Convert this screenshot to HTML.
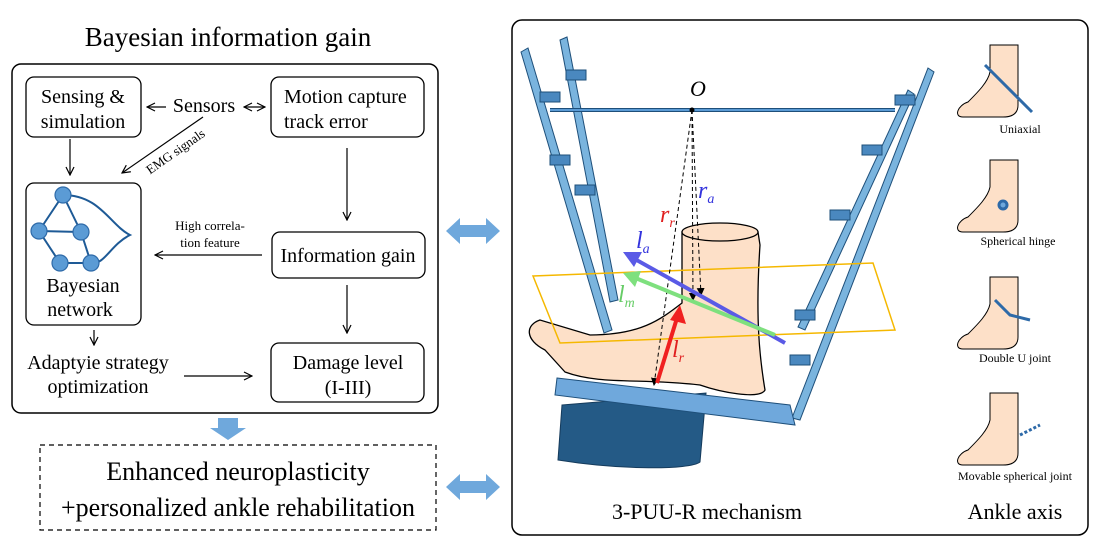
<!DOCTYPE html>
<html><head><meta charset="utf-8"><style>
body{margin:0;background:#fff;}
svg{display:block;font-family:"Liberation Serif",serif;}
</style></head><body>
<svg width="1100" height="560" viewBox="0 0 1100 560" xmlns="http://www.w3.org/2000/svg">
<defs>
<marker id="a" markerWidth="10" markerHeight="10" refX="9" refY="5" orient="auto" markerUnits="userSpaceOnUse"><path d="M1,1 L9,5 L1,9" fill="none" stroke="#000" stroke-width="1.2"/></marker>
<marker id="as" markerWidth="10" markerHeight="10" refX="9" refY="5" orient="auto-start-reverse" markerUnits="userSpaceOnUse"><path d="M1,1 L9,5 L1,9" fill="none" stroke="#000" stroke-width="1.2"/></marker>
<marker id="d" markerWidth="8" markerHeight="8" refX="7" refY="4" orient="auto" markerUnits="userSpaceOnUse"><path d="M0,0 L8,4 L0,8z" fill="#000"/></marker>
</defs>
<rect width="1100" height="560" fill="#fff"/>
<text x="228" y="46" font-size="27" text-anchor="middle">Bayesian information gain</text>
<rect x="12" y="64" width="426" height="349" rx="9" fill="none" stroke="#000" stroke-width="1.5"/>
<g fill="none" stroke="#000" stroke-width="1.3">
<rect x="26" y="77" width="115" height="60" rx="8"/>
<rect x="271" y="77" width="153" height="60" rx="8"/>
<rect x="26" y="183" width="115" height="142" rx="8"/>
<rect x="272" y="232" width="153" height="46" rx="8"/>
<rect x="271" y="343" width="153" height="59" rx="8"/>
</g>
<g font-size="20">
<text x="83" y="103" text-anchor="middle">Sensing &amp;</text>
<text x="83" y="128" text-anchor="middle">simulation</text>
<text x="284" y="103">Motion capture</text>
<text x="284" y="128">track error</text>
<text x="204" y="112" text-anchor="middle">Sensors</text>
<text x="348" y="262" text-anchor="middle">Information gain</text>
<text x="348" y="369" text-anchor="middle">Damage level</text>
<text x="348" y="394" text-anchor="middle">(I-III)</text>
<text x="83" y="292" text-anchor="middle">Bayesian</text>
<text x="80" y="316" text-anchor="middle">network</text>
<text x="98" y="369" text-anchor="middle">Adaptyie strategy</text>
<text x="98" y="393" text-anchor="middle">optimization</text>
</g>
<text x="210" y="230" font-size="13" text-anchor="middle">High correla-</text>
<text x="210" y="247" font-size="13" text-anchor="middle">tion feature</text>
<text x="178" y="155" font-size="13" transform="rotate(-35 178 155)" text-anchor="middle">EMG signals</text>
<g stroke="#000" stroke-width="1.2" fill="none">
<line x1="166" y1="107" x2="147" y2="107" marker-end="url(#a)"/>
<line x1="244" y1="107" x2="265" y2="107" marker-end="url(#a)" marker-start="url(#as)"/>
<line x1="203" y1="117" x2="122" y2="173" marker-end="url(#a)"/>
<line x1="70" y1="139" x2="70" y2="175" marker-end="url(#a)"/>
<line x1="347" y1="148" x2="347" y2="220" marker-end="url(#a)"/>
<line x1="347" y1="285" x2="347" y2="333" marker-end="url(#a)"/>
<line x1="262" y1="255" x2="155" y2="255" marker-end="url(#a)"/>
<line x1="94" y1="330" x2="94" y2="345" marker-end="url(#a)"/>
<line x1="184" y1="376" x2="252" y2="376" marker-end="url(#a)"/>
</g>
<g stroke="#1e5a96" stroke-width="2" fill="none">
<line x1="63" y1="195" x2="39" y2="231"/><line x1="63" y1="195" x2="81" y2="232"/>
<line x1="39" y1="231" x2="81" y2="232"/><line x1="39" y1="231" x2="60" y2="263"/>
<line x1="81" y1="232" x2="91" y2="263"/><line x1="60" y1="263" x2="91" y2="263"/>
<path d="M63,195 C100,195 110,225 130,235 C110,245 105,265 91,263"/>
</g>
<g fill="#5b9bd5" stroke="#2e6aa8" stroke-width="1.2">
<circle cx="63" cy="195" r="8"/><circle cx="39" cy="231" r="8"/><circle cx="81" cy="232" r="8"/><circle cx="60" cy="263" r="8"/><circle cx="91" cy="263" r="8"/>
</g>
<path d="M218,418 h20 v10 h8 l-18,12 l-18,-12 h8z" fill="#6fa8dc"/>
<rect x="40" y="445" width="396" height="85" fill="none" stroke="#000" stroke-width="1.2" stroke-dasharray="5,4"/>
<text x="238" y="480" font-size="26" text-anchor="middle">Enhanced neuroplasticity</text>
<text x="238" y="516" font-size="26" text-anchor="middle">+personalized ankle rehabilitation</text>
<g fill="#6fa8dc">
<path d="M446,231 l14,-13 v7 h26 v-7 l14,13 l-14,13 v-7 h-26 v7z"/>
<path d="M446,487 l14,-13 v7 h26 v-7 l14,13 l-14,13 v-7 h-26 v7z"/>
</g>
<rect x="512" y="20" width="576" height="515" rx="10" fill="none" stroke="#000" stroke-width="1.5"/>
<!-- legs -->
<g stroke="#1e4f7a" stroke-width="1" fill="#7ab4de">
<path d="M521,52 L528,48 L612,330 L604,333z"/>
<path d="M560,40 L567,37 L618,300 L610,302z"/>
<path d="M928,68 L934,72 L800,420 L792,418z"/>
<path d="M908,90 L914,94 L805,330 L798,327z"/>
</g>
<g stroke="#1e4f7a" stroke-width="1" fill="#4a88bf">
<rect x="540" y="92" width="20" height="10"/><rect x="566" y="70" width="20" height="10"/>
<rect x="550" y="155" width="20" height="10"/><rect x="575" y="185" width="20" height="10"/>
<rect x="895" y="95" width="20" height="10"/><rect x="862" y="145" width="20" height="10"/>
<rect x="830" y="210" width="20" height="10"/><rect x="795" y="310" width="20" height="10"/>
<rect x="790" y="355" width="20" height="10"/>
</g>
<line x1="550" y1="110" x2="895" y2="110" stroke="#1e4f7a" stroke-width="4"/>
<line x1="550" y1="110" x2="895" y2="110" stroke="#5b9bd5" stroke-width="2"/>
<text x="698" y="96" font-size="22" font-style="italic" text-anchor="middle">O</text>
<!-- base -->
<path d="M562,405 L706,393 L700,462 C690,470 620,470 558,460z" fill="#245a86" stroke="#153b5c"/>
<path d="M557,378 L790,405 L795,425 L555,395z" fill="#6fa8dc" stroke="#1e4f7a"/>
<!-- foot -->
<path d="M682,232 L682,303 C660,320 640,335 590,335 L540,320 C525,325 525,340 545,350 L565,372 C600,385 640,378 700,385 C720,392 760,400 765,390 C760,360 755,320 760,245 L758,232z" fill="#fde0c8" stroke="#000" stroke-width="1.3"/>
<ellipse cx="720" cy="232" rx="38" ry="9" fill="#fde0c8" stroke="#000" stroke-width="1.3"/>
<!-- plane -->
<polygon points="533,276 873,263 895,330 560,343" fill="none" stroke="#f5b800" stroke-width="1.5"/>
<!-- dashed -->
<g stroke="#000" stroke-width="1" stroke-dasharray="4,3" fill="none">
<line x1="692" y1="110" x2="654" y2="385" marker-end="url(#d)"/>
<line x1="692" y1="110" x2="693" y2="300" marker-end="url(#d)"/>
<line x1="692" y1="110" x2="701" y2="295" marker-end="url(#d)"/>
</g>
<circle cx="692" cy="110" r="2.5" fill="#000"/>
<line x1="785" y1="343" x2="633" y2="258" stroke="#5a5ae6" stroke-width="4"/>
<path d="M623,252 L642,252 L634,267z" fill="#5a5ae6"/>
<line x1="775" y1="335" x2="633" y2="277" stroke="#7ee07e" stroke-width="4"/>
<path d="M623,273 L641,271 L635,287z" fill="#7ee07e"/>
<line x1="657" y1="383" x2="677" y2="318" stroke="#f02020" stroke-width="4"/>
<path d="M680,305 L686,324 L670,320z" fill="#f02020"/>
<g font-family="Liberation Serif,serif" font-style="italic" font-size="24">
<text x="660" y="222" fill="#e02020">r<tspan font-size="14" dy="5">r</tspan></text>
<text x="698" y="198" fill="#3333dd">r<tspan font-size="14" dy="5">a</tspan></text>
<text x="636" y="248" fill="#3333dd">l<tspan font-size="14" dy="5">a</tspan></text>
<text x="618" y="302" fill="#66cc66">l<tspan font-size="14" dy="5">m</tspan></text>
<text x="672" y="357" fill="#e02020">l<tspan font-size="14" dy="5">r</tspan></text>
</g>
<text x="707" y="519" font-size="22" text-anchor="middle">3-PUU-R mechanism</text>
<text x="1015" y="519" font-size="22" text-anchor="middle">Ankle axis</text>
<!-- ankle icons -->
<g fill="#fde0c8" stroke="#000" stroke-width="1">
<path d="M990,45 h28 v60 c0,8 -5,12 -15,12 h-40 c-10,0 -5,-12 5,-15 c10,-10 20,-20 22,-30z"/>
<path d="M990,160 h28 v60 c0,8 -5,12 -15,12 h-40 c-10,0 -5,-12 5,-15 c10,-10 20,-20 22,-30z"/>
<path d="M990,277 h28 v60 c0,8 -5,12 -15,12 h-40 c-10,0 -5,-12 5,-15 c10,-10 20,-20 22,-30z"/>
<path d="M990,393 h28 v60 c0,8 -5,12 -15,12 h-40 c-10,0 -5,-12 5,-15 c10,-10 20,-20 22,-30z"/>
</g>
<g stroke="#2e6aa8" stroke-width="3" fill="#6fa8dc">
<line x1="985" y1="65" x2="1032" y2="112"/>
<circle cx="1003" cy="205" r="4"/>
<path d="M995,300 L1010,315 L1030,320" fill="none"/>
<path d="M1020,435 L1040,425" fill="none" stroke-dasharray="3,2"/>
</g>
<g font-size="12" text-anchor="middle">
<text x="1020" y="133">Uniaxial</text>
<text x="1018" y="245">Spherical hinge</text>
<text x="1015" y="362">Double U joint</text>
<text x="1015" y="480">Movable spherical joint</text>
</g>
</svg>
</body></html>
